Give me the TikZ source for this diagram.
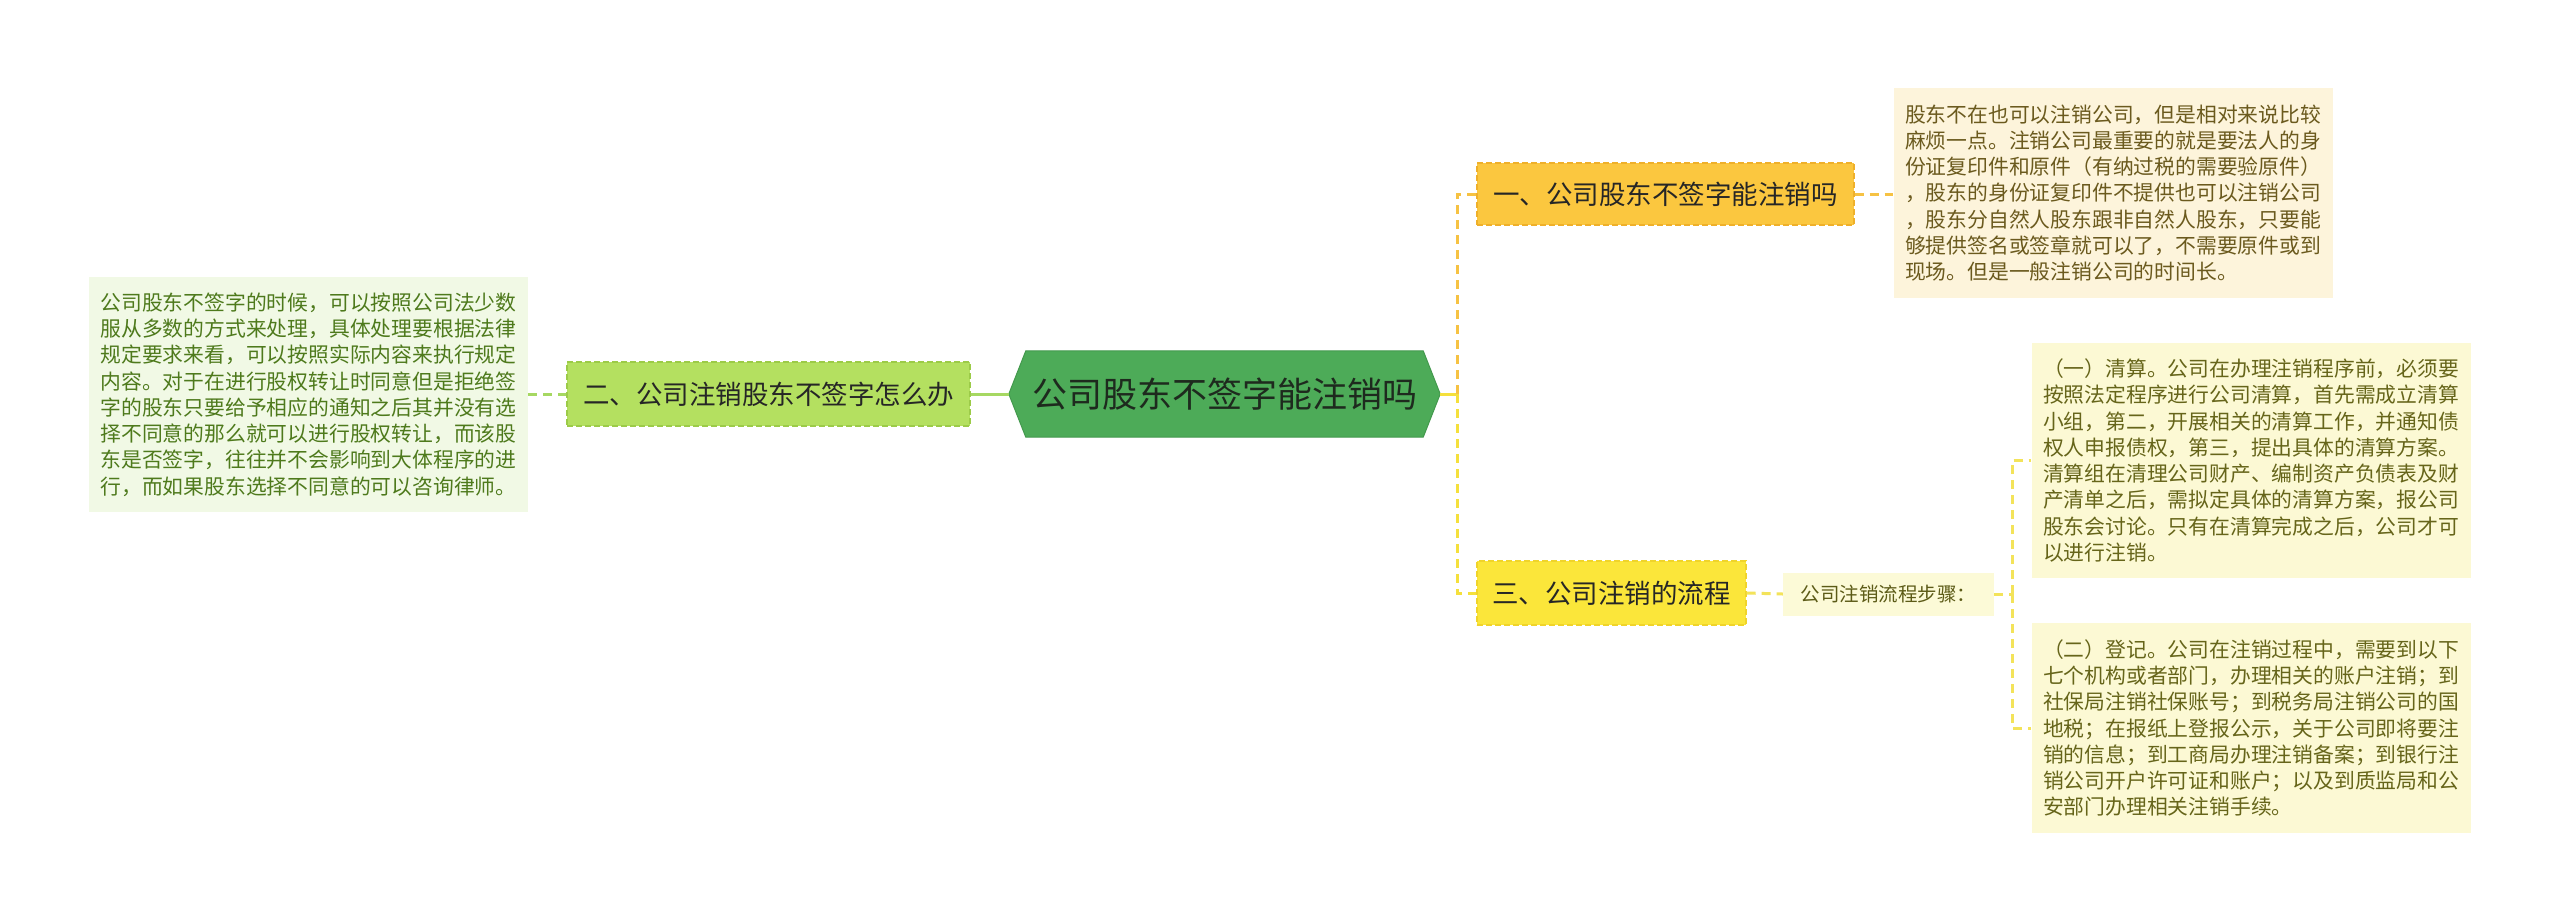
\documentclass[tikz,border=0pt]{standalone}
\usepackage{fontspec}
\setmainfont{Noto Sans CJK SC}
\usetikzlibrary{backgrounds}
\definecolor{hexfill}{HTML}{4DAB58}
\definecolor{hexline}{HTML}{43994D}
\definecolor{hextext}{HTML}{1E2A1E}
\definecolor{twofill}{HTML}{B4E060}
\definecolor{twoline}{HTML}{9CCB48}
\definecolor{lgfill}{HTML}{F1F9E5}
\definecolor{lgtext}{HTML}{4E7A1C}
\definecolor{onefill}{HTML}{FBC73F}
\definecolor{oneline}{HTML}{EFB02A}
\definecolor{d1fill}{HTML}{FDF4DB}
\definecolor{d1text}{HTML}{6B5A1E}
\definecolor{threefill}{HTML}{FBE63A}
\definecolor{threeline}{HTML}{F0D42A}
\definecolor{stepfill}{HTML}{FCFAD7}
\definecolor{ylfill}{HTML}{FCF9D4}
\definecolor{yltext}{HTML}{66651A}
\definecolor{cgreen}{HTML}{A6D862}
\definecolor{corange}{HTML}{F6C243}
\definecolor{cyellow}{HTML}{F5E03C}
\definecolor{cpale}{HTML}{F3E35A}
\tikzset{
  lvlbox/.style={inner sep=0pt, minimum height=63pt, text=black!85,
    font=\fontsize{26.5pt}{30pt}\selectfont, dash pattern=on 6pt off 3pt, line width=1.2pt},
  detailbox/.style={inner xsep=11.5pt, inner ysep=0pt, text width=416pt, align=left,
    font=\fontsize{20.8pt}{26.3pt}\selectfont},
  conn/.style={line width=3pt, dash pattern=on 9pt off 6pt},
  solidconn/.style={line width=3pt}
}
\begin{document}
\begin{tikzpicture}[x=1pt,y=-1pt]
\useasboundingbox (0,0) rectangle (2560,922);
% central
\node[inner sep=0pt, minimum width=431pt, minimum height=86pt, text=hextext,
  font=\fontsize{35pt}{40pt}\selectfont] (hex) at (1224.5,394) {公司股东不签字能注销吗};
\begin{pgfonlayer}{background}
\fill[white] (0,0) rectangle (2560,922);
\filldraw[fill=hexfill, draw=hexline, line width=1pt]
  (hex.west) -- ([xshift=17pt]hex.north west) -- ([xshift=-17pt]hex.north east)
  -- (hex.east) -- ([xshift=-17pt]hex.south east) -- ([xshift=17pt]hex.south west) -- cycle;
\end{pgfonlayer}
% level one
\node[lvlbox, fill=onefill, draw=oneline, minimum width=377pt, minimum height=62pt] (b1) at (1665.5,194) {一、公司股东不签字能注销吗};
\node[lvlbox, fill=twofill, draw=twoline, minimum width=403pt, minimum height=64pt] (b2) at (768.5,394) {二、公司注销股东不签字怎么办};
\node[lvlbox, fill=threefill, draw=threeline, minimum width=269pt, minimum height=64pt] (b3) at (1611.5,593) {三、公司注销的流程};
% step
\node[inner sep=0pt, minimum width=211pt, minimum height=43pt, fill=stepfill, text=yltext!90!black,
  font=\fontsize{19.5pt}{24pt}\selectfont] (st) at (1888.5,594) {公司注销流程步骤：};
% details
\node[detailbox, fill=lgfill, text=lgtext, minimum height=235pt] (dl) at (308.5,394.5) {公司股东不签字的时候，可以按照公司法少数\\服从多数的方式来处理，具体处理要根据法律\\规定要求来看，可以按照实际内容来执行规定\\内容。对于在进行股权转让时同意但是拒绝签\\字的股东只要给予相应的通知之后其并没有选\\择不同意的那么就可以进行股权转让，而该股\\东是否签字，往往并不会影响到大体程序的进\\行，而如果股东选择不同意的可以咨询律师。};
\node[detailbox, fill=d1fill, text=d1text, minimum height=210pt] (d1) at (2113,193) {股东不在也可以注销公司，但是相对来说比较\\麻烦一点。注销公司最重要的就是要法人的身\\份证复印件和原件（有纳过税的需要验原件）\\，股东的身份证复印件不提供也可以注销公司\\，股东分自然人股东跟非自然人股东，只要能\\够提供签名或签章就可以了，不需要原件或到\\现场。但是一般注销公司的时间长。};
\node[detailbox, fill=ylfill, text=yltext, minimum height=235pt] (d2) at (2251,460.5) {（一）清算。公司在办理注销程序前，必须要\\按照法定程序进行公司清算，首先需成立清算\\小组，第二，开展相关的清算工作，并通知债\\权人申报债权，第三，提出具体的清算方案。\\清算组在清理公司财产、编制资产负债表及财\\产清单之后，需拟定具体的清算方案，报公司\\股东会讨论。只有在清算完成之后，公司才可\\以进行注销。};
\node[detailbox, fill=ylfill, text=yltext, minimum height=210pt] (d3) at (2251,728) {（二）登记。公司在注销过程中，需要到以下\\七个机构或者部门，办理相关的账户注销；到\\社保局注销社保账号；到税务局注销公司的国\\地税；在报纸上登报公示，关于公司即将要注\\销的信息；到工商局办理注销备案；到银行注\\销公司开户许可证和账户；以及到质监局和公\\安部门办理相关注销手续。};
% junctions
\coordinate (tr) at (1457,394);
\coordinate (sj) at (2012,594);
% connectors
\draw[conn, cgreen] (dl.east |- b2.west) -- (b2.west);
\draw[solidconn, cgreen] (b2.east) -- (hex.west);
\draw[solidconn, cyellow] (hex.east) -- (tr);
\draw[conn, corange] (tr) |- (b1.west);
\draw[conn, cyellow] (tr) |- (b3.west);
\draw[conn, corange] (b1.east) -- (b1.east -| d1.west);
\draw[conn, cpale] (b3.east) -- (st.west);
\draw[conn, cpale] (st.east) -- (sj);
\draw[conn, cpale] (sj) |- (d2.west);
\draw[conn, cpale] (sj) |- (d3.west);
\end{tikzpicture}
\end{document}
